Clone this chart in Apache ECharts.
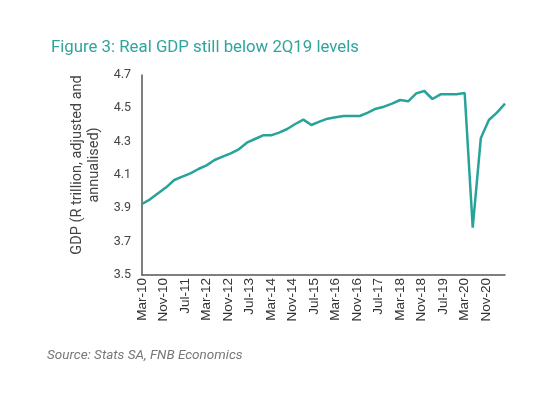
<!DOCTYPE html>
<html>
<head>
<meta charset="utf-8">
<script src="https://cdn.jsdelivr.net/npm/echarts@6/dist/echarts.min.js"></script>
<style>
html,body{margin:0;padding:0;background:#fff;}
#c{width:546px;height:396px;}
</style>
</head>
<body>
<div id="c"></div>
<script>
// Quarterly real GDP (R trillion, seasonally adjusted & annualised), 1Q10 .. 2Q21
var gdp = [
  3.926, 3.954, 3.990, 4.026, 4.070, 4.090, 4.110, 4.136, 4.158, 4.190,
  4.210, 4.230, 4.254, 4.294, 4.316, 4.338, 4.338, 4.354, 4.376, 4.406,
  4.432, 4.400, 4.420, 4.438, 4.446, 4.454, 4.454, 4.454, 4.474, 4.498,
  4.510, 4.528, 4.550, 4.542, 4.590, 4.604, 4.556, 4.584, 4.584, 4.584,
  4.592, 3.784, 4.320, 4.430, 4.474, 4.528
];
var firstYear = 2010;          // first quarter = Mar-10
var monthNames = ['Jan','Feb','Mar','Apr','May','Jun','Jul','Aug','Sep','Oct','Nov','Dec'];
var xTickLabels = ['Mar-10','Nov-10','Jul-11','Mar-12','Nov-12','Jul-13','Mar-14','Nov-14','Jul-15',
                   'Mar-16','Nov-16','Jul-17','Mar-18','Nov-18','Jul-19','Mar-20','Nov-20'];
var yTicks = [3.5, 3.7, 3.9, 4.1, 4.3, 4.5, 4.7];

// monthly category axis from Mar-10 to the last quarter month
var months = [], series = [];
var nMonths = (gdp.length - 1) * 3 + 1;
for (var m = 0; m < nMonths; m++) {
  var mi = 2 + m;                       // month index starting at March
  var yr = firstYear + Math.floor(mi / 12);
  var lbl = monthNames[mi % 12] + '-' + String(yr % 100).padStart(2, '0');
  months.push(lbl);
  series.push(m % 3 === 0 ? gdp[m / 3] : null);
}

var chart = echarts.init(document.getElementById('c'), null, {renderer: 'canvas'});
chart.setOption({
  animation: false,
  backgroundColor: '#ffffff',
  title: {
    text: 'Figure 3: Real GDP still below 2Q19 levels',
    left: 46, top: 34,
    textStyle: {fontFamily: 'Roboto', fontSize: 16.8, fontWeight: 'normal', color: '#2fa59c'}
  },
  graphic: [{
    type: 'text', left: 47, top: 349,
    style: {text: 'Source: Stats SA, FNB Economics', fontFamily: 'Roboto', fontStyle: 'italic',
            fontSize: 13.5, fill: '#777777'}
  }, {
    type: 'text', x: 86, y: 165, rotation: Math.PI / 2,
    style: {text: 'GDP (R trillion, adjusted and\nannualised)', fontFamily: 'Roboto',
            fontSize: 14.5, lineHeight: 17, fill: '#444444', align: 'center', verticalAlign: 'middle'}
  }],
  grid: {left: 142, right: 41, top: 75, bottom: 121},
  xAxis: {
    type: 'category',
    data: months,
    boundaryGap: false,
    axisLine: {lineStyle: {color: '#555555', width: 1.5}},
    axisTick: {show: false},
    axisLabel: {
      interval: function (idx, val) { return xTickLabels.indexOf(val) >= 0; },
      rotate: 90, fontFamily: 'Liberation Sans', fontSize: 13.5, color: '#333333', margin: 3
    },
    splitLine: {show: false}
  },
  yAxis: {
    type: 'value',
    min: yTicks[0], max: yTicks[yTicks.length - 1], interval: 0.2,
    axisLine: {show: true, lineStyle: {color: '#555555', width: 1.5}},
    axisTick: {show: false},
    splitLine: {show: false},
    axisLabel: {
      formatter: function (v) { return v.toFixed(1); },
      fontFamily: 'Roboto', fontSize: 12.5, color: '#444444', margin: 11
    }
  },
  series: [{
    type: 'line',
    data: series,
    connectNulls: true,
    showSymbol: false,
    symbol: 'none',
    lineStyle: {color: '#27a39a', width: 2.5},
    itemStyle: {color: '#27a39a'}
  }]
});
</script>
</body>
</html>
